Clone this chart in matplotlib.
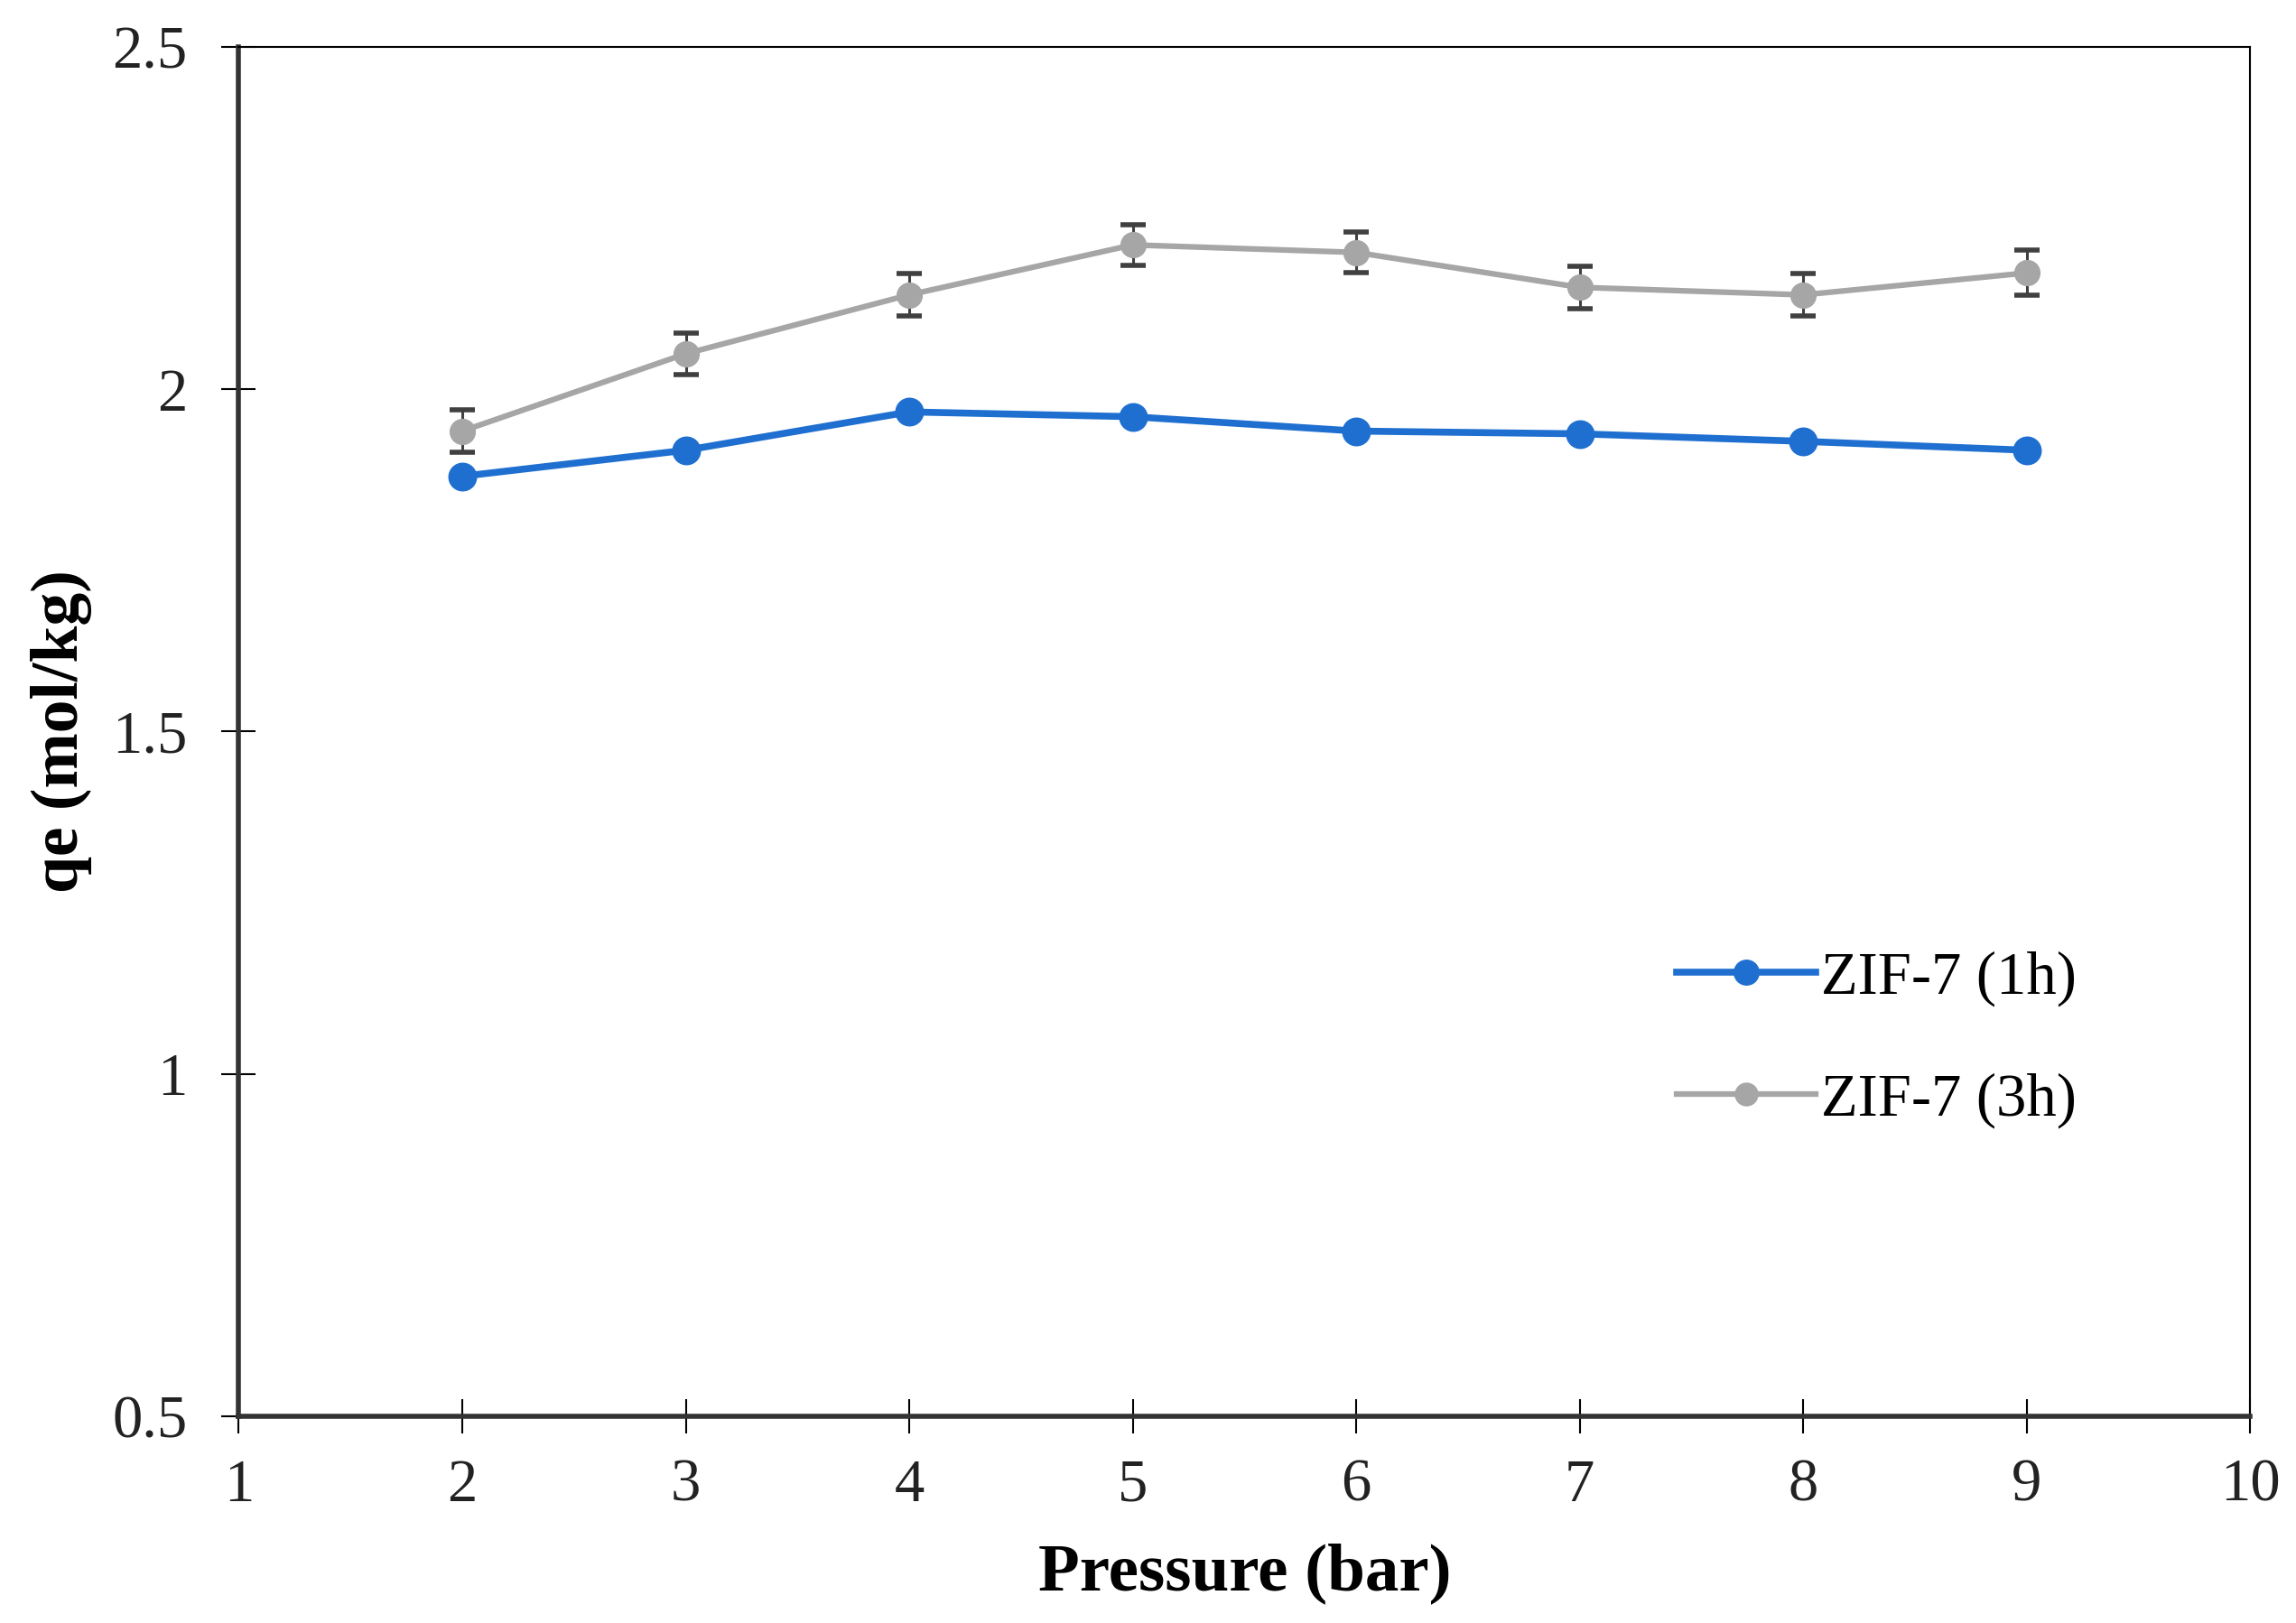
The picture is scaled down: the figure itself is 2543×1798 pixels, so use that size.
import matplotlib
matplotlib.use("Agg")
import matplotlib.pyplot as plt

pressure = [2, 3, 4, 5, 6, 7, 8, 9]
qe_1h = [1.873, 1.911, 1.967, 1.960, 1.939, 1.935, 1.924, 1.911]
qe_3h = [1.939, 2.052, 2.138, 2.211, 2.200, 2.149, 2.138, 2.170]
err_3h = [0.031, 0.030, 0.031, 0.030, 0.030, 0.031, 0.031, 0.033]
labels = ["ZIF-7 (1h)", "ZIF-7 (3h)"]
xticks = [1, 2, 3, 4, 5, 6, 7, 8, 9, 10]
yticks = [0.5, 1, 1.5, 2, 2.5]

plt.rcParams['font.family'] = ['Liberation Serif', 'DejaVu Serif']

fig = plt.figure(figsize=(25.43, 17.98), dpi=100)
ax = fig.add_axes([0.104, 0.1275, 0.876, 0.8435])

blue = '#1F6FD0'
gray = '#A6A6A6'

ax.plot(pressure, qe_1h, color=blue, lw=5.5, marker='o', ms=22,
        label=labels[0], zorder=4)
ax.errorbar(pressure, qe_3h, yerr=err_3h, fmt='none', ecolor='#404040',
            elinewidth=2.2, capsize=10, capthick=4, zorder=2)
ax.plot(pressure, qe_3h, color=gray, lw=4.5, marker='o', ms=20,
        label=labels[1], zorder=3)

ax.set_xlim(1, 10)
ax.set_ylim(0.5, 2.5)
ax.set_xticks(xticks)
ax.set_yticks(yticks)
ax.set_xticklabels([str(t) for t in xticks])
ax.set_yticklabels([f"{t:g}" for t in yticks])

ax.tick_params(axis='both', direction='inout', length=28, width=1.5,
               colors='black', labelsize=48)
ax.tick_params(axis='x', pad=20, labelcolor='#222222')
ax.tick_params(axis='y', pad=27, labelcolor='#222222')

for s in ['top', 'right']:
    ax.spines[s].set_linewidth(1.5)
    ax.spines[s].set_color('black')
for s in ['left', 'bottom']:
    ax.spines[s].set_linewidth(4)
    ax.spines[s].set_color('#333333')

ax.set_xlabel('Pressure (bar)', fontsize=54, fontweight='bold')
ax.set_ylabel('qe (mol/kg)', fontsize=53, fontweight='bold')
ax.xaxis.set_label_coords(0.5, -0.115)
ax.xaxis.label.set_va('center')
ax.yaxis.set_label_coords(-0.088, 0.5)
ax.yaxis.label.set_va('center')

leg = ax.legend(loc='center left', bbox_to_anchor=(0.715, 0.275),
                frameon=False, fontsize=48, handlelength=2.3,
                handletextpad=0.1, borderpad=0, borderaxespad=0,
                labelspacing=1.1, markerscale=0.9)

fig.savefig('out.png', dpi=100, facecolor='white')
